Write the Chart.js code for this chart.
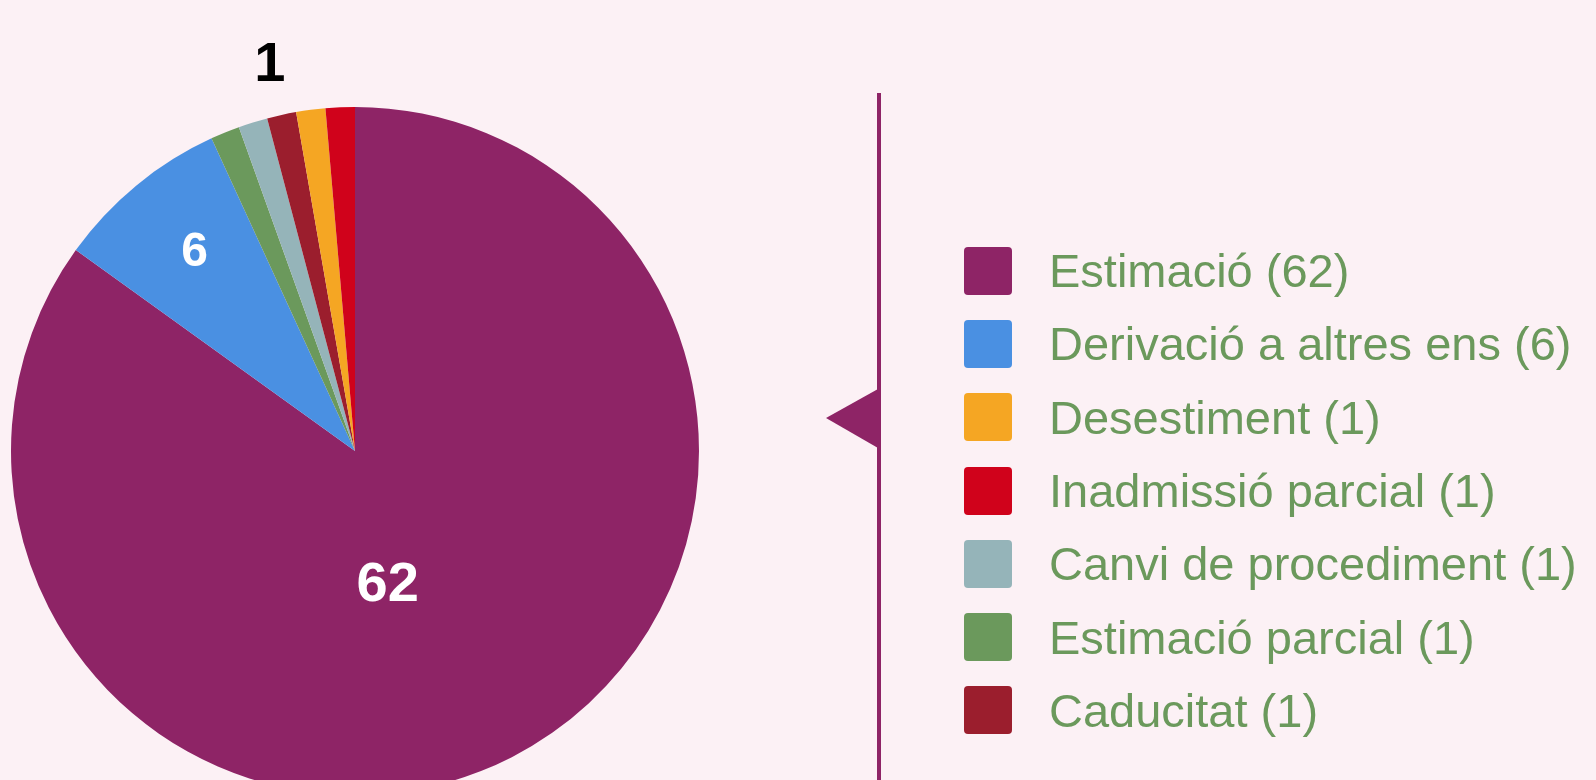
<!DOCTYPE html>
<html>
<head>
<meta charset="utf-8">
<script src="https://cdn.jsdelivr.net/npm/chart.js@4"></script>
<style>
    html, body { margin: 0; padding: 0; background: #fcf1f5; overflow: hidden; }
    body { width: 1596px; height: 780px; position: relative; font-family: "Liberation Sans", Arial, sans-serif; }
    #pie-wrap { position: absolute; left: 0; top: 0; width: 710px; height: 820px; }
    #divider { position: absolute; left: 0; top: 0; }
    #legend { position: absolute; left: 964px; top: 234px; }
    .legend-row { display: flex; align-items: center; height: 73.3px; }
    .legend-box { width: 48px; height: 48px; border-radius: 4px; margin-right: 37px; }
    .legend-text { font-size: 47px; color: #6b995c; white-space: nowrap; }
</style>
</head>
<body>
<div id="pie-wrap"><canvas id="pie"></canvas></div>
<svg id="divider" width="1596" height="780">
    <rect x="877" y="93" width="4" height="700" fill="#8e2466"></rect>
    <polygon points="826,418 878,389 878,448" fill="#8e2466"></polygon>
</svg>
<div id="legend"></div>

<script>
// categories in legend order
var categories = ['Estimació', 'Derivació a altres ens', 'Desestiment', 'Inadmissió parcial',
    'Canvi de procediment', 'Estimació parcial', 'Caducitat'];
var values = [62, 6, 1, 1, 1, 1, 1];
var colors = ['#8e2466', '#4a90e2', '#f5a623', '#d0021b', '#95b4b9', '#6b995c', '#9b1e2d'];

// order of the slices clockwise from the top (indexes into the arrays above)
var sliceOrder = [0, 1, 5, 4, 6, 2, 3];

// which slices carry a number on the pie: distance (fraction of radius), turn (deg), colour, size
var labelled = {
    'Estimació': { r: 0.39, turn: 13, color: '#ffffff', size: 56 },
    'Derivació a altres ens': { r: 0.75, turn: 1, color: '#ffffff', size: 48 },
    'Caducitat': { r: 1.16, turn: 0, color: '#000000', size: 56 }
};

var pieLabels = sliceOrder.map(function (i) { return categories[i]; });
var pieValues = sliceOrder.map(function (i) { return values[i]; });
var pieColors = sliceOrder.map(function (i) { return colors[i]; });

// draws the numbers on / above the slices, centred on the digits
var sliceLabels = {
    id: 'sliceLabels',
    afterDatasetsDraw: function (chart) {
        var ctx = chart.ctx;
        var meta = chart.getDatasetMeta(0);
        meta.data.forEach(function (arc, i) {
            var opt = labelled[pieLabels[i]];
            if (!opt) return;
            var p = arc.getProps(['x', 'y', 'startAngle', 'endAngle', 'outerRadius'], true);
            var mid = (p.startAngle + p.endAngle) / 2 + opt.turn * Math.PI / 180;
            var r = p.outerRadius * opt.r;
            ctx.save();
            ctx.font = 'bold ' + opt.size + 'px "Liberation Sans", Arial, sans-serif';
            ctx.fillStyle = opt.color;
            ctx.textAlign = 'center';
            ctx.textBaseline = 'alphabetic';
            ctx.fillText(String(pieValues[i]), p.x + Math.cos(mid) * r,
                p.y + Math.sin(mid) * r + opt.size * 0.36);
            ctx.restore();
        });
    }
};

new Chart(document.getElementById('pie').getContext('2d'), {
    type: 'pie',
    data: {
        labels: pieLabels,
        datasets: [{
            data: pieValues,
            backgroundColor: pieColors,
            borderWidth: 0
        }]
    },
    options: {
        responsive: true,
        maintainAspectRatio: false,
        animation: false,
        layout: { padding: { left: 11, top: 107, right: 11, bottom: 25 } },
        plugins: {
            legend: { display: false },
            tooltip: { enabled: false }
        }
    },
    plugins: [sliceLabels]
});

// html legend, built from the same arrays
var legend = document.getElementById('legend');
categories.forEach(function (name, i) {
    var row = document.createElement('div');
    row.className = 'legend-row';
    var box = document.createElement('div');
    box.className = 'legend-box';
    box.style.background = colors[i];
    var text = document.createElement('div');
    text.className = 'legend-text';
    text.textContent = name + ' (' + values[i] + ')';
    row.appendChild(box);
    row.appendChild(text);
    legend.appendChild(row);
});
</script>
</body>
</html>
